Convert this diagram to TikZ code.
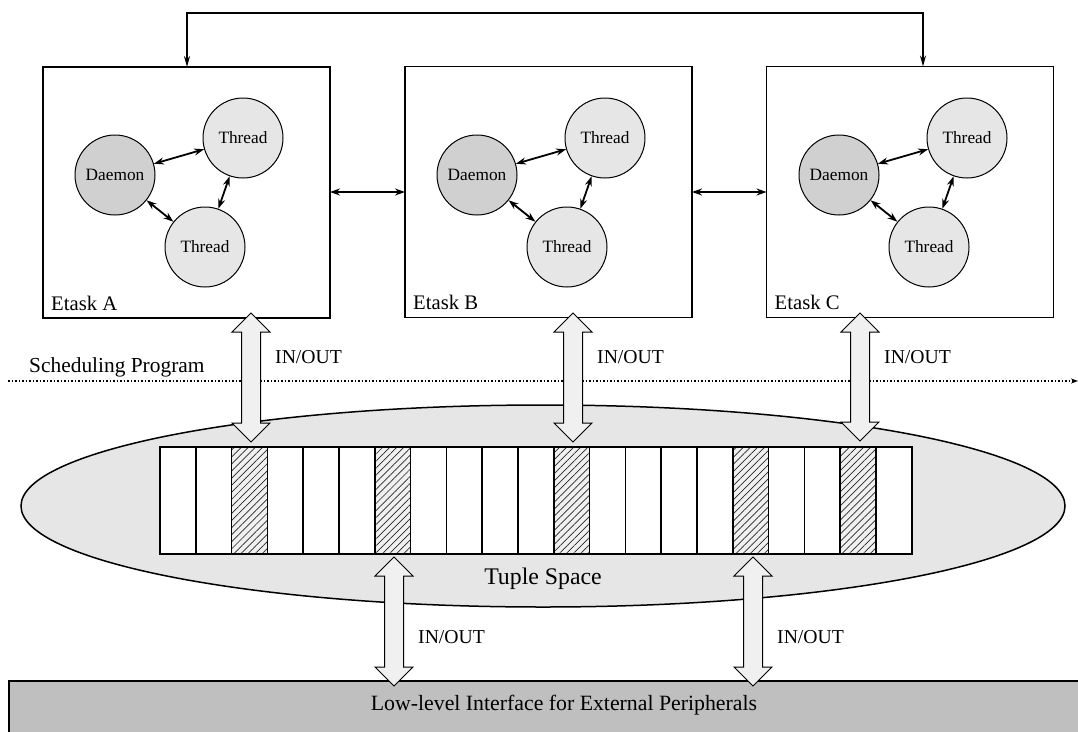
\documentclass[tikz,border=0pt]{standalone}
\usepackage{fontspec}
\setmainfont{Liberation Serif}
\usetikzlibrary{arrows.meta,shapes.geometric,patterns.meta}

\definecolor{daemonfill}{HTML}{D0D0D0}
\definecolor{threadfill}{HTML}{E6E6E6}
\definecolor{spacefill}{HTML}{E6E6E6}
\definecolor{iofill}{HTML}{F0F0F0}
\definecolor{hatchfill}{HTML}{F0F0F0}
\definecolor{barfill}{HTML}{BFBFBF}

\newcommand{\fs}[1]{\fontsize{#1}{#1}\selectfont}

% vertical double block arrow: centre x, top tip y, bottom tip y
\newcommand{\ioarrow}[3]{%
  \draw[ioshape] (#1,#2) -- (#1+19,#2+19) -- (#1+9.5,#2+19) -- (#1+9.5,#3-19)
    -- (#1+19,#3-19) -- (#1,#3) -- (#1-19,#3-19) -- (#1-9.5,#3-19)
    -- (#1-9.5,#2+19) -- (#1-19,#2+19) -- cycle;}

\tikzset{
  taskbox/.style={draw, line width=1.8pt, minimum width=287pt, minimum height=251pt, inner sep=0pt, outer sep=0pt},
  daemon/.style={circle, draw, line width=1pt, fill=daemonfill, minimum size=80pt, inner sep=0pt, font=\fs{17.3}},
  thread/.style={circle, draw, line width=1pt, fill=threadfill, minimum size=80pt, inner sep=0pt, font=\fs{17.3}},
  link/.style={line width=1.8pt, {Stealth[length=10pt,width=7pt]}-{Stealth[length=10pt,width=7pt]}},
  tasklabel/.style={anchor=base west, inner sep=0pt, font=\fs{20.7}},
  iolabel/.style={anchor=west, inner sep=0pt, font=\fs{19.7}},
  ioshape/.style={draw, line width=1pt, fill=iofill, line join=miter},
  cell/.style={draw, line width=1.6pt, fill=white, minimum width=35.8pt, minimum height=107pt, inner sep=0pt, outer sep=0pt},
  plain/.style={},
  hatched/.style={pattern={Lines[angle=45,distance=5pt,line width=0.7pt]}, pattern color=black!85, preaction={fill=hatchfill}},
}

\begin{document}
\begin{tikzpicture}[x=1pt,y=-1pt]
\useasboundingbox (0,0) rectangle (1078,731);
\clip (0,0) rectangle (1078,731);

% Etask boxes
\node[taskbox] (boxA) at (186.5,192.5) {};
\node[taskbox] (boxB) at (548.5,192) {};
\node[taskbox] (boxC) at (910,192) {};
\node[tasklabel] (labA) at ([xshift=8pt,yshift=8pt]boxA.south west) {Etask A};
\node[tasklabel] (labB) at ([xshift=8pt,yshift=8pt]boxB.south west) {Etask B};
\node[tasklabel] (labC) at ([xshift=8pt,yshift=8pt]boxC.south west) {Etask C};

% daemons and threads inside each Etask
\foreach \n/\dx in {A/0,B/362,C/724}{
  \node[daemon] (d\n) at (115+\dx,175) {Daemon};
  \node[thread] (t\n) at (243+\dx,138) {Thread};
  \node[thread] (u\n) at (205+\dx,247) {Thread};
  \draw[link] (d\n) -- (t\n);
  \draw[link] (d\n) -- (u\n);
  \draw[link] (t\n) -- (u\n);
}

% links between Etasks
\draw[link] (boxA.east |- 0,192) -- (boxB.west |- 0,192);
\draw[link] (boxB.east |- 0,192) -- (boxC.west |- 0,192);

% top connector from Etask A to Etask C
\coordinate (topA) at (187,13);
\coordinate (topC) at (923,13);
\draw[line width=1.6pt, {Stealth[length=11pt,width=6pt]}-{Stealth[length=11pt,width=6pt]}]
  (topA |- boxA.north) -- (topA) -- (topC) -- (topC |- boxC.north);

% scheduling program time line
\coordinate (schedL) at (8,381);
\coordinate (schedR) at (1078,381);
\draw[line width=1.5pt, dash pattern=on 1.5pt off 2pt, -{Stealth[length=7pt,width=5pt]}] (schedL) -- (schedR);
\node[anchor=base west, inner sep=0pt, font=\fs{21.4}] (sched) at (29,372) {Scheduling Program};

% tuple space
\node[ellipse, draw, line width=1.5pt, fill=spacefill, minimum width=1044pt, minimum height=202pt, inner sep=0pt] (space) at (543,506) {};
\node[font=\fs{23.8}, inner sep=0pt] (spacelab) at (543,579) {Tuple Space};
\foreach \i/\s in {0/plain,1/plain,2/hatched,3/plain,4/plain,5/plain,6/hatched,7/plain,8/plain,9/plain,10/plain,
                   11/hatched,12/plain,13/plain,14/plain,15/plain,16/hatched,17/plain,18/plain,19/hatched,20/plain}{
  \node[cell,\s] (c\i) at (160+35.8*\i+17.9,500.5) {};
}

% low-level interface bar
\node[draw, line width=1.5pt, fill=barfill, minimum width=1100pt, minimum height=80pt, inner sep=0pt, anchor=north west] (bar) at (8,680) {};
\node[font=\fs{21.8}, inner sep=0pt] (barlab) at (564,705) {Low-level Interface for External Peripherals};

% IN/OUT block arrows
\ioarrow{251}{313}{442}
\ioarrow{573}{313}{442}
\ioarrow{860}{313}{441}
\ioarrow{394}{557}{686}
\ioarrow{753}{557}{686}
\node[iolabel] (ioA) at (275,357) {IN/OUT};
\node[iolabel] (ioB) at (597,357) {IN/OUT};
\node[iolabel] (ioC) at (884,357) {IN/OUT};
\node[iolabel] (ioL) at (418,637) {IN/OUT};
\node[iolabel] (ioR) at (777,637) {IN/OUT};
\end{tikzpicture}
\end{document}
